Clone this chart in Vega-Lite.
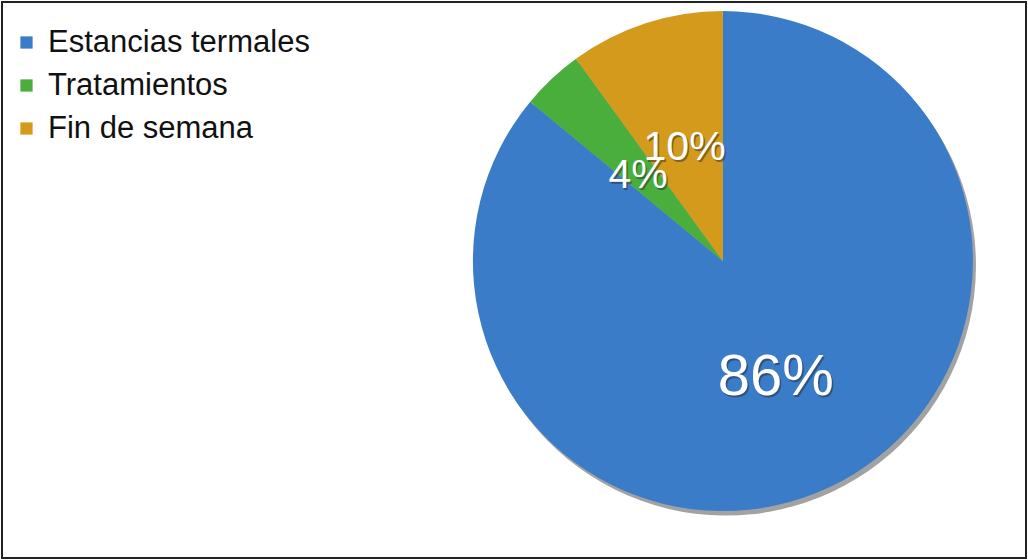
{
  "$schema": "https://vega.github.io/schema/vega-lite/v6.json",
  "width": 1028,
  "height": 560,
  "autosize": {"type": "fit", "contains": "padding"},
  "padding": 2,
  "background": "white",
  "config": {"view": {"stroke": "#222", "strokeWidth": 2}},
  "data": {"values": [
    {"category": "Estancias termales", "value": 86, "label": "86%", "rank": 1},
    {"category": "Tratamientos", "value": 4, "label": "4%", "rank": 2},
    {"category": "Fin de semana", "value": 10, "label": "10%", "rank": 3}
  ]},
  "encoding": {
    "theta": {"field": "value", "type": "quantitative", "stack": true},
    "order": {"field": "rank", "type": "quantitative"},
    "color": {
      "field": "category", "type": "nominal",
      "scale": {"domain": ["Estancias termales", "Tratamientos", "Fin de semana"], "range": ["#3b7cc8", "#4aae3c", "#d39a1c"]},
      "legend": {
        "title": null, "orient": "none", "legendX": 9, "legendY": 25,
        "symbolType": "square", "symbolSize": 150, "symbolStrokeWidth": 0,
        "labelFontSize": 31, "labelFont": "Liberation Sans", "labelColor": "#111",
        "labelOffset": 6, "rowPadding": 11, "padding": 0, "labelLimit": 500
      }
    },
    "x": {"datum": 0.704, "type": "quantitative", "scale": {"domain": [0, 1]}, "axis": null},
    "y": {"datum": 0.534, "type": "quantitative", "scale": {"domain": [0, 1]}, "axis": null}
  },
  "layer": [
    {
      "mark": {"type": "arc", "outerRadius": 250, "opacity": 0.55},
      "encoding": {
        "color": {"value": "#555"},
        "x": {"datum": 0.707, "type": "quantitative"},
        "y": {"datum": 0.526, "type": "quantitative"}
      }
    },
    {
      "mark": {"type": "arc", "outerRadius": 250, "stroke": null}
    },
    {
      "mark": {"type": "text", "radius": 124, "font": "Liberation Sans", "dx": 1.5, "dy": 7, "opacity": 0.45},
      "encoding": {
        "text": {"field": "label"},
        "color": {"value": "#222"},
        "size": {"condition": {"test": "datum.category === 'Estancias termales'", "value": 58}, "value": 41}
      }
    },
    {
      "mark": {"type": "text", "radius": 124, "font": "Liberation Sans", "dy": 5},
      "encoding": {
        "text": {"field": "label"},
        "color": {"value": "#ffffff"},
        "size": {"condition": {"test": "datum.category === 'Estancias termales'", "value": 58}, "value": 41}
      }
    }
  ]
}
